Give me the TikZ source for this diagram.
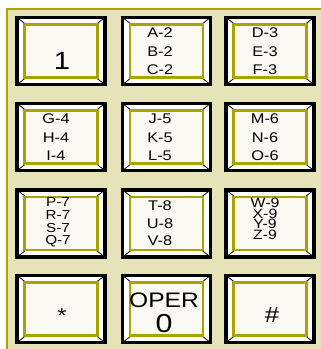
\documentclass[tikz,border=0pt]{standalone}
\usepackage{fontspec}
\setmainfont[FakeStretch=1.17]{Liberation Sans}
\definecolor{panel}{RGB}{229,227,183}
\definecolor{olive}{RGB}{168,164,0}
\definecolor{keyface}{RGB}{250,250,243}
\tikzset{
  keyouter/.style={draw=black, line width=3.2pt, fill=white, minimum width=88pt, minimum height=67pt, inner sep=0pt, outer sep=0pt},
  keyinner/.style={draw=olive, line width=2.6pt, fill=keyface, minimum width=73pt, minimum height=53pt, inner sep=0pt, outer sep=0pt},
  bevel/.style={draw=black, line width=0.8pt},
  keytext/.style={inner sep=0pt, align=center, text=black},
  midtext/.style={keytext, font=\fontsize{14}{18.5}\selectfont},
}
\newcommand\mykey[3]{%
  \node[keyouter] (#1) at (#2,#3) {};
  \foreach \c in {north west, north east, south west, south east} \draw[bevel] (#1.\c) -- (#2,#3);
  \node[keyinner] (#1i) at (#2,#3) {};
}
\begin{document}
\begin{tikzpicture}[x=1pt,y=-1pt]
\useasboundingbox (0,0) rectangle (321,349);
\fill[panel] (6,8) rectangle (321,349);
\draw[olive, line width=2pt] (7,349) -- (7,9) -- (321,9);
% keys
\mykey{k1}{61}{51}
\mykey{k2}{166.5}{51}
\mykey{k3}{270}{51}
\mykey{k4}{61}{137}
\mykey{k5}{166.5}{137}
\mykey{k6}{270}{137}
\mykey{k7}{61}{223.5}
\mykey{k8}{166.5}{223.5}
\mykey{k9}{270}{223.5}
\mykey{ks}{61}{309}
\mykey{k0}{166.5}{309}
\mykey{kh}{270}{309}
% texts
\node[keytext, anchor=base, font=\fontsize{25}{25}\selectfont] (t1) at (62,69) {1};
\node[midtext] (t2) at (160,51.5) {A-2\\B-2\\C-2};
\node[midtext] (t3) at (265,51.5) {D-3\\E-3\\F-3};
\node[midtext] (t4) at (56,137.5) {G-4\\H-4\\I-4};
\node[midtext] (t5) at (160,137.5) {J-5\\K-5\\L-5};
\node[midtext] (t6) at (265,137.5) {M-6\\N-6\\O-6};
\node[keytext, font=\fontsize{13}{12.7}\selectfont] (t7) at (58,222.5) {P-7\\R-7\\S-7\\Q-7};
\node[keytext, font=\fontsize{14}{17.5}\selectfont] (t8) at (160,223.5) {T-8\\U-8\\V-8};
\node[keytext, font=\fontsize{13.5}{10.5}\selectfont] (t9) at (265,219) {W-9\\X-9\\Y-9\\Z-9};
\node[keytext, anchor=base, font=\fontsize{20}{20}\selectfont] (ts) at (62,322) {*};
\node[keytext, anchor=base, font=\fontsize{21}{21}\selectfont] (t0a) at (164,307) {OPER};
\node[keytext, anchor=base, font=\fontsize{26}{26}\selectfont] (t0b) at (164,332) {0};
\node[keytext, anchor=base, font=\fontsize{22}{22}\selectfont] (th) at (272,322) {\#};
\end{tikzpicture}
\end{document}
